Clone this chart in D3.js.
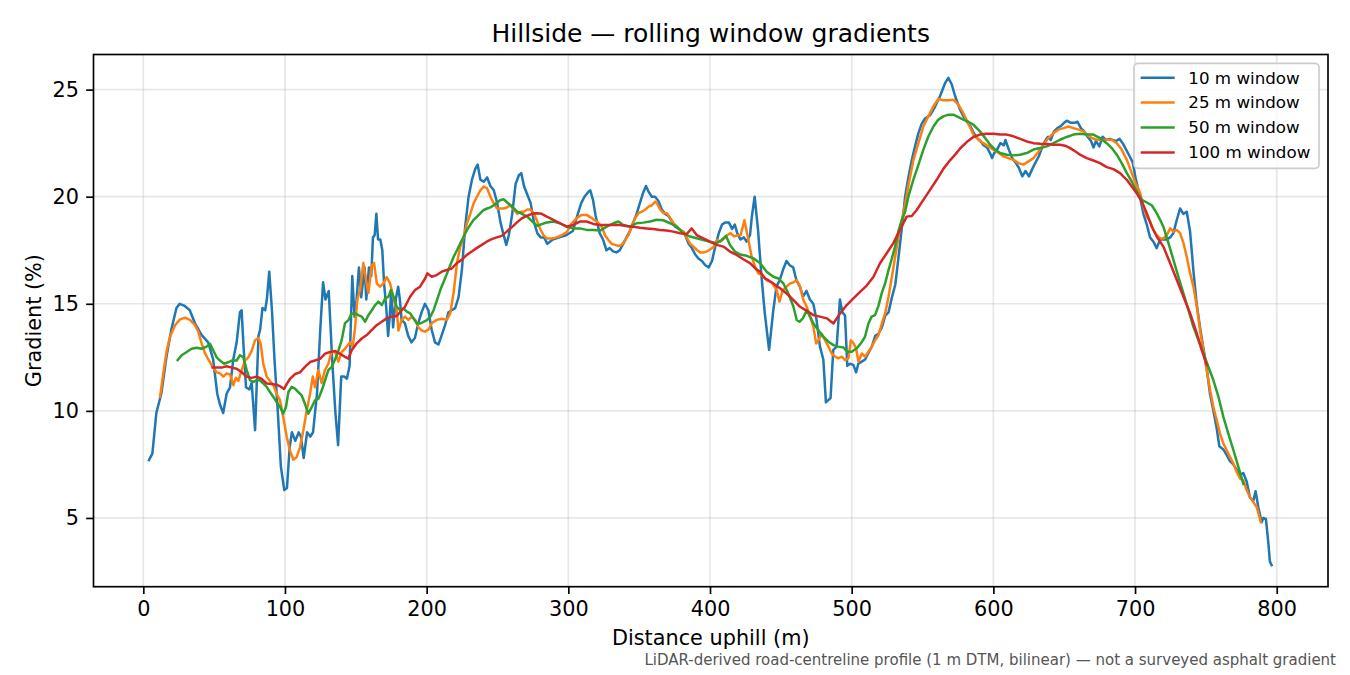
<!DOCTYPE html>
<html>
<head>
<meta charset="utf-8">
<script src="https://cdn.jsdelivr.net/npm/d3@7"></script>
<style>
  body { margin: 0; background: #ffffff; }
  text { font-family: "DejaVu Sans", sans-serif; fill: #000000; }
</style>
</head>
<body>
<script>
// distance uphill (m), gradient (%)
var win10 = [[4,7.7],[6.4,8.0],[9.2,9.9],[12.7,10.8],[16.3,12.5],[19.8,13.8],[23.4,14.8],[25.7,15.0],[29.3,14.9],[32.8,14.7],[36.4,14.1],[41.1,13.55],[45.8,13.2],[49.3,12.4],[52.2,10.8],[54.1,10.3],[56.4,9.9],[58.8,10.8],[61.2,11.1],[63.5,12.4],[65.9,13.2],[68.2,14.6],[69.4,14.7],[70.6,13.2],[72.5,11.1],[74.9,11.0],[76.5,11.3],[78.9,9.1],[81.3,13.5],[82.5,13.8],[84.1,14.8],[86,14.7],[87.2,15.2],[88.9,16.5],[90.8,14.7],[92.6,12.4],[95,9.9],[97.1,7.4],[99.5,6.3],[101.4,6.4],[103.3,8.3],[104.9,9.0],[107.3,8.6],[109.7,9.0],[111.3,8.8],[113.2,7.8],[115.6,9.0],[117.9,8.8],[119.8,9.0],[122.6,10.8],[125,13.9],[126.9,16.0],[128.6,15.2],[130.9,15.6],[133.3,12.4],[135.6,9.9],[137.5,8.4],[139.7,11.6],[142,11.6],[143.7,11.5],[145.6,12.1],[147.5,16.3],[149.1,14.4],[150.3,15.0],[152.2,16.7],[153.8,15.3],[155,16.0],[156.2,16.7],[157.4,15.2],[159.3,16.7],[160.9,16.3],[162.1,18.1],[163.3,18.2],[164.5,19.2],[165.7,18.0],[167.3,18.0],[168.7,17.5],[169.9,16.0],[171.6,14.7],[172.8,13.5],[173.9,14.4],[175.1,15.65],[176.3,13.9],[178.2,15.2],[179.9,15.8],[181.1,15.2],[182.3,14.25],[184.6,14.1],[187,13.5],[189.3,13.2],[191.7,13.4],[194.1,14.1],[196.4,14.6],[198.8,15.0],[201.2,14.7],[203.5,13.8],[205.9,13.2],[208.3,13.1],[210.7,13.55],[213,14.0],[215.4,14.6],[217.7,14.7],[220.1,14.8],[222.5,15.3],[224.9,16.6],[227.2,18.6],[229.6,20.0],[232,20.8],[234.3,21.3],[236,21.5],[237.9,20.8],[240.3,20.7],[242.7,20.9],[245,20.5],[247.4,20.3],[249.8,19.7],[252.1,18.8],[254,18.3],[256.2,17.75],[258,18.2],[260.4,19.2],[262.8,20.6],[265.1,21.0],[266.8,21.1],[268.7,20.5],[271,20.1],[273.4,19.7],[275.8,18.8],[278.1,18.3],[280.5,18.1],[282.9,18.1],[285.2,17.8],[289,18.0],[293.7,18.1],[298.5,18.2],[303.2,18.4],[306.7,19.2],[309.1,19.7],[311.4,20.0],[313.8,20.2],[315.5,20.3],[317.4,19.85],[319.3,19.1],[322.1,18.3],[324.5,18.0],[326.9,17.5],[329.2,17.6],[331.6,17.45],[334,17.4],[336.3,17.5],[338.7,17.8],[341.1,18.1],[343.4,18.4],[345.8,18.8],[348.2,19.2],[350.5,19.7],[352.9,20.2],[354.8,20.5],[356.5,20.25],[358.9,20.0],[361.2,20.0],[363.6,19.8],[366,19.4],[368.3,19.2],[370.7,19.1],[373.1,18.85],[375.4,18.6],[379,18.45],[382.5,18.2],[384.9,17.8],[387.2,17.6],[389.6,17.3],[392,17.1],[394.3,17.0],[396.7,16.8],[399.1,16.7],[401.4,17.0],[403.8,17.7],[406.2,18.3],[408.5,18.7],[410.9,18.8],[413.3,18.8],[415.6,18.5],[417.5,18.7],[419.2,18.3],[421.5,18.0],[423.9,18.1],[425.8,17.9],[428.2,18.2],[429.6,19.1],[431.5,20.0],[433.9,18.45],[436.2,16.4],[438.6,14.6],[441.7,12.85],[444.5,14.6],[446.9,15.8],[449.2,16.1],[451.6,16.6],[454,17.0],[456.3,16.8],[458.7,16.7],[461,16.1],[463.4,15.8],[465.8,15.35],[468.1,15.6],[470.5,15.2],[472.9,15.0],[475.2,14.25],[477.6,13.0],[480,12.4],[481.8,10.4],[483.5,10.5],[485.1,10.6],[487,12.85],[489.4,13.0],[491.7,15.2],[493.4,14.6],[495.3,14.45],[496.9,12.1],[498.8,12.2],[501.2,12.15],[503.1,11.8],[504.7,12.2],[507.1,12.3],[509.5,12.4],[511.8,12.7],[514.2,13.0],[516.6,13.5],[518.9,13.6],[521.3,13.9],[523.7,14.45],[526,14.6],[528.4,15.3],[530.8,15.9],[533.1,17.2],[535.5,18.6],[537.7,20.0],[540,20.9],[542.4,21.7],[544.7,22.35],[547.1,22.97],[549.4,23.4],[551.8,23.65],[555.3,23.8],[558.8,24.2],[562.4,24.7],[565.9,25.3],[568.2,25.55],[570.6,25.25],[573,24.7],[576.5,24.06],[578.9,23.75],[581.3,23.5],[583.7,23.3],[586,23.0],[588.4,22.75],[590.8,22.6],[593.1,22.4],[595.5,22.3],[597.9,22.0],[599.1,21.8],[600.3,22.0],[602.6,22.2],[605,22.5],[607.4,22.4],[608.5,22.65],[610.9,22.2],[613.3,21.8],[615.6,21.6],[618,21.35],[620.4,20.95],[622.7,21.2],[625.1,20.95],[627.5,21.3],[629.8,21.6],[632.2,21.9],[634.6,22.35],[636.9,22.65],[638.6,22.8],[640.5,22.65],[642.8,23.05],[645.2,23.2],[647.6,23.3],[649.9,23.45],[651.8,23.55],[654.7,23.45],[657,23.45],[659.4,23.5],[661.8,23.2],[664.1,23.05],[666.5,22.8],[668.9,22.6],[670.7,22.3],[672.4,22.6],[674.8,22.35],[677.1,22.8],[679.5,22.65],[681.9,22.7],[684.2,22.65],[686.6,22.6],[689,22.7],[691.3,22.5],[693.7,22.2],[696.1,21.9],[698.4,21.6],[700.3,20.9],[703.5,20.0],[705.9,19.2],[708.3,18.7],[710.6,18.1],[713,17.9],[715.3,17.6],[717.7,18.0],[720,18.0],[722.4,18.0],[724.8,18.1],[727.1,18.3],[729.4,18.9],[731.8,19.45],[734.1,19.2],[736.5,19.3],[738.8,18.4],[741.2,16.55],[743.5,15.0],[745.9,13.9],[748.2,12.95],[750.6,12.0],[752.9,10.8],[755.3,10.0],[757.6,9.2],[759.5,8.35],[762.3,8.2],[764.6,7.95],[767,7.65],[769.4,7.5],[771.7,7.25],[774.1,7.0],[776.4,7.1],[778.8,6.7],[781.1,5.95],[783.5,5.8],[785.1,6.25],[787,5.5],[789.4,4.8],[790.5,5.0],[792.4,4.95],[794,3.9],[795.2,2.97],[796.4,2.8]];

var win25 = [[11.8,10.65],[14.1,11.75],[16.5,12.8],[18.8,13.45],[22.4,14.0],[25.9,14.27],[29.4,14.35],[32.9,14.25],[36.5,14.0],[38.8,13.7],[41.2,13.15],[43.5,12.7],[45.9,12.4],[48.9,12.05],[51.8,11.8],[54.1,11.75],[56.5,11.6],[58.8,11.75],[61.2,11.7],[63.6,11.2],[65.4,11.55],[67.1,11.4],[69.4,11.9],[71.8,12.35],[74.1,12.5],[76.5,12.8],[78.9,13.3],[81.2,13.4],[82.8,13.15],[84.7,12.2],[87.1,11.6],[89.4,11.4],[91.8,11.2],[94.1,10.8],[96.5,10.5],[98.8,9.7],[101.2,8.8],[103.5,8.15],[105.9,7.72],[108.3,7.85],[110.6,8.3],[113,9.1],[115.3,10.0],[117.7,10.8],[119.6,11.6],[121.2,11.1],[123.5,11.9],[125.9,11.3],[128.2,11.9],[130.6,12.2],[133,12.8],[135.3,12.75],[137.7,12.3],[140,12.75],[142.4,12.9],[145.9,13.2],[147.8,13.0],[149.5,13.9],[151.1,15.2],[153,15.65],[155.3,16.9],[157.2,16.1],[158.9,15.5],[161.2,16.8],[162.9,16.9],[164.8,15.95],[167.1,15.8],[169.5,15.95],[171.8,16.25],[174.2,15.95],[176.5,15.3],[178.9,14.7],[180.1,13.75],[182.4,14.25],[184.8,14.4],[187.1,14.25],[189.5,14.4],[191.9,14.25],[194.2,13.9],[196.6,13.75],[199,13.7],[201.3,13.8],[203.7,14.1],[207.2,14.25],[210.7,14.3],[214.3,14.25],[216.6,14.55],[219,15.5],[221.4,16.9],[223.7,17.67],[226.1,18.1],[228.4,18.75],[230.8,19.2],[233.2,19.7],[235.5,20.0],[237.9,20.3],[240.3,20.47],[242.6,20.4],[245,20.0],[247.3,19.7],[249.7,19.45],[252.1,19.45],[254.4,19.45],[256.8,19.5],[259.1,19.6],[261.5,19.4],[263.9,19.2],[266.2,19.3],[268.6,19.3],[271,19.4],[273.3,19.4],[275.7,19.2],[278.1,18.85],[280.4,18.45],[282.6,18.2],[284.7,18.05],[288.3,18.05],[291.8,18.1],[295.3,18.2],[298.9,18.35],[302.4,18.76],[305.9,19.0],[309.4,19.15],[313,19.15],[316.5,19.0],[320,18.85],[323.6,18.6],[325.9,18.2],[328.3,17.98],[330.6,17.8],[333,17.75],[335.4,17.7],[337.7,17.75],[340.1,17.98],[342.4,18.2],[344.8,18.6],[347.2,19.0],[349.5,19.23],[351.9,19.3],[354.3,19.4],[356.6,19.54],[359,19.6],[361.3,19.77],[362.5,19.7],[364.9,19.4],[367.2,19.23],[369.6,19.23],[372,19.0],[374.3,18.76],[376.7,18.6],[379.1,18.45],[381.4,18.37],[383.8,18.05],[386.1,17.8],[388.5,17.66],[390.9,17.5],[393.2,17.4],[395.6,17.4],[398,17.45],[400.3,17.55],[402.7,17.66],[405,17.98],[407.4,17.9],[409.8,18.05],[412.1,18.2],[414.5,18.3],[416.9,18.15],[419.2,18.2],[421.6,18.2],[424.3,18.9],[427.1,17.98],[429.4,17.2],[431.8,16.73],[434.1,16.42],[436.5,16.34],[440,16.1],[443.5,16.0],[447.1,15.64],[449,15.1],[451.3,15.64],[454.1,15.8],[456.5,15.95],[458.9,16.0],[461.2,16.1],[463.6,15.8],[465.9,15.17],[468.3,14.86],[470.6,14.4],[473,13.92],[474.9,13.15],[476.5,13.3],[478.9,13.6],[481.2,13.3],[483.6,13.0],[485.9,12.68],[488.3,12.53],[490.6,12.45],[493,12.53],[495.4,12.37],[497.7,12.45],[499.4,13.3],[501.3,13.15],[503.1,12.92],[504.8,12.29],[507.1,12.68],[509.5,12.53],[511.8,12.76],[514.2,13.0],[516.5,13.3],[518.9,13.53],[521.3,14.08],[523.6,14.55],[526,15.33],[528.4,16.26],[530.7,17.2],[533.1,18.14],[535.4,18.9],[537.8,19.7],[540.1,20.55],[543.6,21.72],[547.1,22.5],[550.6,23.28],[554.1,23.75],[557.7,24.22],[561.2,24.56],[564.7,24.5],[568.2,24.5],[571.8,24.53],[575.3,24.3],[578.8,23.9],[582.4,23.4],[585.9,22.9],[589.5,22.66],[593,22.5],[596.5,22.35],[600,22.2],[603.6,22.05],[607.1,21.88],[610.6,21.8],[614.2,21.72],[617.7,21.57],[621.2,21.5],[624.8,21.65],[628.3,21.8],[631.8,22.1],[635.3,22.43],[638.9,22.74],[642.4,22.97],[645.9,23.13],[649.5,23.2],[653,23.28],[656.5,23.2],[660.1,23.13],[663.6,23.05],[665.9,22.9],[669.5,22.74],[673,22.66],[676.5,22.66],[680.1,22.66],[683.6,22.66],[687.1,22.5],[690.6,22.2],[694.2,21.72],[697.7,21.1],[700.5,20.6],[703.6,20.17],[705.9,19.54],[708.3,19.07],[710.6,18.84],[713,18.45],[715.3,18.2],[717.7,18.05],[720,18.05],[722.4,18.2],[724.8,18.52],[727.1,18.37],[729.5,18.45],[731.8,18.3],[734.2,17.83],[736.5,17.2],[738.9,16.42],[741.2,15.8],[743.6,14.86],[745.9,13.77],[748.3,12.83],[750.6,11.9],[753,10.96],[755.3,10.18],[757.7,9.56],[760,8.93],[762.4,8.47],[764.8,8.15],[767.1,7.84],[769.5,7.53],[771.8,7.14],[774.2,6.83],[776.5,6.75],[778.9,6.28],[781.2,5.97],[783.6,5.73],[785.9,5.5],[788.8,4.8]];

var win50 = [[24.3,12.37],[27.1,12.6],[30.6,12.75],[34.1,12.9],[37.7,12.95],[41.2,12.9],[44.7,13.0],[47.1,13.13],[49.4,12.82],[51.8,12.5],[54.1,12.35],[57,12.2],[60,12.27],[62.4,12.35],[65.9,12.35],[68.3,12.6],[70.6,12.5],[73,11.9],[75.3,11.43],[77.7,11.35],[80.1,11.43],[82.4,11.43],[84.8,11.27],[87.1,11.12],[89.4,10.88],[91.8,10.65],[94.1,10.41],[96.5,10.18],[98.8,9.87],[100.7,10.18],[102.4,10.88],[104.7,11.12],[107.1,11.04],[109.4,10.88],[111.8,10.72],[114.1,10.33],[116.5,9.87],[118.9,10.18],[121.2,10.49],[123.6,10.57],[126,10.96],[128.3,11.43],[130.6,11.9],[133,12.05],[135.3,12.4],[137.7,12.8],[140,13.3],[142.4,14.1],[144.8,14.24],[147.1,14.55],[149.5,14.55],[151.8,14.47],[154.2,14.4],[156.6,14.16],[158.9,14.47],[161.3,14.7],[163.6,14.94],[166,15.1],[168.4,14.94],[170.7,15.25],[173.1,15.33],[174.7,15.64],[176.6,15.33],[178.9,14.86],[181.3,14.7],[183.7,14.78],[186,14.63],[188.4,14.55],[190.7,14.32],[193.1,14.08],[195.5,14.08],[197.8,14.16],[200.2,14.24],[202.6,14.4],[204.9,14.7],[207.3,15.17],[209.6,15.64],[212,16.03],[214.4,16.42],[216.7,16.81],[219.1,17.2],[221.4,17.5],[223.8,17.83],[226.2,18.14],[228.5,18.45],[230.9,18.7],[233.2,18.92],[235.6,19.07],[238,19.23],[240.3,19.38],[242.7,19.45],[245,19.5],[247.4,19.6],[249.8,19.73],[252.1,19.85],[254.5,19.88],[256.8,19.73],[259.2,19.6],[261.6,19.45],[263.9,19.3],[266.3,19.23],[268.6,19.15],[271,19.07],[273.4,18.92],[275.7,18.77],[278.1,18.64],[280.4,18.7],[284,18.78],[289.4,18.84],[294.1,18.76],[298.8,18.6],[303.5,18.52],[308.2,18.52],[312.9,18.45],[317.6,18.45],[322.4,18.42],[327.1,18.6],[331.8,18.76],[335.3,18.84],[338.8,18.68],[343.5,18.6],[348.2,18.76],[352.9,18.79],[357.6,18.84],[362.4,18.92],[367.1,18.9],[371.8,18.76],[376.5,18.6],[381.2,18.29],[385.9,18.14],[390.6,18.06],[395.3,17.98],[400,17.9],[404.7,17.83],[408.2,17.98],[411.3,18.17],[414.1,17.75],[417.6,17.44],[421.2,17.3],[425.9,17.24],[430.6,17.12],[435.3,16.9],[440,16.5],[444.7,16.26],[448.3,16.18],[451.8,15.95],[455.3,15.48],[458.9,14.86],[461.2,14.24],[463.1,14.16],[465.5,14.32],[468.3,14.7],[470.6,14.4],[473,14.08],[476.5,13.77],[480,13.46],[483.6,13.23],[487.1,13.07],[490.6,13.0],[494.1,12.96],[497,12.76],[500,12.76],[503.5,12.92],[506.5,13.15],[509.4,13.46],[511.8,14.08],[514.1,14.4],[516.5,14.47],[518.9,14.9],[521.2,15.5],[523.6,15.95],[525.9,16.55],[528.3,17.1],[530.6,17.67],[533,18.4],[535.3,18.9],[537.7,19.3],[540,20.0],[543.5,20.79],[547.1,21.49],[550.6,22.2],[554.1,22.81],[557.7,23.28],[561.2,23.6],[564.7,23.75],[568.3,23.83],[571.8,23.83],[575.3,23.72],[578.8,23.6],[582.4,23.5],[585.9,23.36],[590.6,23.05],[594.2,22.74],[597.7,22.43],[601.2,22.2],[604.8,22.04],[609.5,21.96],[614.2,21.93],[618.9,21.96],[623.6,22.04],[628.3,22.2],[633,22.27],[637.7,22.35],[642.4,22.5],[647.1,22.66],[651.8,22.79],[656.5,22.9],[661.2,22.94],[665.9,22.9],[670.6,22.9],[675.3,22.74],[680,22.5],[683.6,22.27],[687.1,21.96],[690.6,21.57],[694.2,21.1],[697.7,20.71],[701.2,20.24],[704.8,19.85],[708.3,19.73],[711.8,19.6],[715.3,19.23],[717.7,18.92],[720,18.6],[723.6,17.83],[727.1,17.05],[730.6,16.26],[734.2,15.48],[737.7,14.7],[741.2,13.92],[744.8,13.3],[748.3,12.68],[751.8,12.05],[755.3,11.43],[758.9,10.65],[762.4,9.71],[765.9,8.93],[769.5,8.15],[773,7.37],[776.5,6.59]];

var win100 = [[49,12.02],[51.8,12.02],[55.3,12.02],[58.8,12.08],[62.4,12.02],[65.9,11.97],[69.4,11.8],[73,11.6],[76.5,11.54],[80.1,11.6],[83.6,11.49],[87.1,11.28],[90.6,11.25],[94.1,11.22],[97,11.13],[99.3,11.02],[101.2,11.25],[103.5,11.49],[107.1,11.72],[110.6,11.8],[114.1,12.05],[117.7,12.28],[121.2,12.35],[124.8,12.43],[128.3,12.67],[131.8,12.75],[135.3,12.8],[138.9,12.66],[142.4,12.52],[144.7,12.44],[147.1,12.83],[150.6,13.15],[154.2,13.38],[157.7,13.54],[161.2,13.77],[164.7,14.0],[168.3,14.16],[171.8,14.32],[175.3,14.4],[178.9,14.43],[182.4,14.7],[184.7,14.86],[188.3,15.33],[191.8,15.64],[195.3,15.8],[198.9,16.18],[200.5,16.42],[203.6,16.26],[207.1,16.34],[210.6,16.5],[214.2,16.58],[217.7,16.65],[221.2,16.89],[224.7,17.05],[228.3,17.28],[231.8,17.44],[235.3,17.6],[238.9,17.75],[242.4,17.9],[245.9,18.02],[249.5,18.1],[253,18.17],[256.5,18.37],[260,18.57],[263.6,18.79],[267.1,18.99],[270.6,19.1],[274.2,19.2],[277.7,19.23],[281.2,19.2],[284.8,19.07],[289.4,18.92],[294.1,18.76],[298.8,18.6],[303.5,18.68],[308.2,18.84],[312.9,18.84],[317.6,18.73],[322.4,18.68],[327.1,18.68],[331.8,18.68],[336.5,18.68],[341.2,18.63],[345.9,18.6],[350.6,18.55],[355.3,18.52],[360,18.49],[364.7,18.45],[369.4,18.42],[374.1,18.37],[378.8,18.29],[383.5,18.26],[387.1,18.52],[390.6,18.21],[395.3,18.06],[400,17.9],[404.7,17.75],[409.4,17.67],[414.1,17.44],[418.8,17.28],[423.5,17.08],[428.2,16.9],[432.9,16.6],[435.3,16.5],[438.9,16.18],[441.2,16.1],[444.7,15.95],[449.4,15.72],[454.1,15.48],[458.9,15.17],[463.6,14.86],[468.3,14.67],[473,14.47],[477.6,14.4],[482.4,14.32],[487.1,14.08],[491.8,14.55],[496.5,14.94],[501.2,15.25],[505.9,15.56],[510.6,15.85],[515.3,16.25],[520,16.89],[524.7,17.36],[529.4,17.83],[534.1,18.45],[538.8,19.07],[542.4,19.1],[545.9,19.38],[550.6,19.85],[555.3,20.32],[560,20.79],[564.7,21.3],[569.4,21.7],[573.5,22.0],[576.5,22.25],[581.2,22.55],[585.9,22.79],[590.6,22.9],[595.3,22.94],[600,22.94],[604.8,22.9],[609.5,22.9],[614.2,22.82],[618.9,22.7],[623.6,22.58],[628.3,22.5],[633,22.47],[637.7,22.46],[642.4,22.43],[647.1,22.43],[650.6,22.38],[654.2,22.27],[657.7,22.12],[661.2,21.96],[665.9,21.8],[670.6,21.69],[675.3,21.57],[680,21.38],[684.7,21.29],[689.4,21.1],[694.2,20.79],[697.7,20.48],[701.2,20.16],[704.8,19.77],[708.3,19.23],[711.8,18.6],[715.3,18.14],[720,17.67],[724.8,16.89],[729.5,16.11],[734.2,15.33],[738.9,14.55],[743.6,13.62],[747.1,12.84],[750.6,12.14]];

var seriesNames = ["10 m window", "25 m window", "50 m window", "100 m window"];
var seriesColours = ["#1f77b4", "#ff7f0e", "#2ca02c", "#d62728"];
var xTicks = [0, 100, 200, 300, 400, 500, 600, 700, 800];
var yTicks = [5, 10, 15, 20, 25];

var titleText = "Hillside \u2014 rolling window gradients";
var xLabel = "Distance uphill (m)";
var yLabel = "Gradient (%)";
var noteText = "LiDAR-derived road-centreline profile (1 m DTM, bilinear) \u2014 not a surveyed asphalt gradient";

var width = 1350, height = 675;
// plot frame (window.top is read-only, so no bare "top")
var plotLeft = 93.5, plotRight = 1328, plotTop = 54.5, plotBottom = 586.7;

var svg = d3.select("body").append("svg")
	.attr("width", width)
	.attr("height", height);

var x = d3.scaleLinear().domain([-35.15, 836.2]).range([plotLeft, plotRight]);
var y = d3.scaleLinear().domain([1.79, 26.64]).range([plotBottom, plotTop]);

// grid
var grid = svg.append("g").attr("class", "grid");
grid.selectAll("line.gx").data(xTicks).enter().append("line")
	.attr("class", "gx")
	.attr("x1", function(d) { return x(d); })
	.attr("x2", function(d) { return x(d); })
	.attr("y1", plotTop).attr("y2", plotBottom)
	.attr("stroke", "#b0b0b0").attr("stroke-opacity", 0.3).attr("stroke-width", 1.67);
grid.selectAll("line.gy").data(yTicks).enter().append("line")
	.attr("class", "gy")
	.attr("y1", function(d) { return y(d); })
	.attr("y2", function(d) { return y(d); })
	.attr("x1", plotLeft).attr("x2", plotRight)
	.attr("stroke", "#b0b0b0").attr("stroke-opacity", 0.3).attr("stroke-width", 1.67);

// lines
var line = d3.line()
	.x(function(d) { return x(d[0]); })
	.y(function(d) { return y(d[1]); });

var allSeries = [win10, win25, win50, win100];
svg.append("g").selectAll("path").data(allSeries).enter().append("path")
	.attr("d", line)
	.attr("fill", "none")
	.attr("stroke", function(d, i) { return seriesColours[i]; })
	.attr("stroke-width", 2.5)
	.attr("stroke-linejoin", "round")
	.attr("stroke-linecap", "square");

// axes
var xAxis = svg.append("g")
	.attr("transform", "translate(0," + plotBottom + ")")
	.call(d3.axisBottom(x).tickValues(xTicks).tickSize(7.3).tickPadding(7.3));
var yAxis = svg.append("g")
	.attr("transform", "translate(" + plotLeft + ",0)")
	.call(d3.axisLeft(y).tickValues(yTicks).tickSize(7.3).tickPadding(7.3));

[xAxis, yAxis].forEach(function(ax) {
	ax.select(".domain").remove();
	ax.selectAll(".tick line").attr("stroke", "#000").attr("stroke-width", 1.67);
	ax.selectAll(".tick text")
		.attr("font-family", "DejaVu Sans")
		.attr("font-size", "20.8px")
		.attr("fill", "#000");
});

svg.append("rect")
	.attr("x", plotLeft).attr("y", plotTop)
	.attr("width", plotRight - plotLeft).attr("height", plotBottom - plotTop)
	.attr("fill", "none").attr("stroke", "#000").attr("stroke-width", 1.67);

// texts
svg.append("text")
	.attr("x", (plotLeft + plotRight) / 2).attr("y", 42)
	.attr("text-anchor", "middle")
	.attr("font-size", "25px")
	.text(titleText);

svg.append("text")
	.attr("x", (plotLeft + plotRight) / 2).attr("y", 645)
	.attr("text-anchor", "middle")
	.attr("font-size", "20.8px")
	.text(xLabel);

svg.append("text")
	.attr("transform", "translate(34," + ((plotTop + plotBottom) / 2) + ") rotate(-90)")
	.attr("text-anchor", "middle")
	.attr("dy", "0.35em")
	.attr("font-size", "20.8px")
	.text(yLabel);

svg.append("text")
	.attr("x", 1336).attr("y", 665)
	.attr("text-anchor", "end")
	.attr("font-size", "15px")
	.style("fill", "#555")
	.text(noteText);

// legend
var legend = svg.append("g").attr("transform", "translate(1134,63.3)");
legend.append("rect")
	.attr("width", 185).attr("height", 105)
	.attr("rx", 4)
	.attr("fill", "#fff").attr("fill-opacity", 0.8)
	.attr("stroke", "#cccccc").attr("stroke-width", 1.67);

var rows = legend.selectAll("g.row").data(seriesNames).enter().append("g")
	.attr("class", "row")
	.attr("transform", function(d, i) { return "translate(0," + (14.4 + i * 24.9) + ")"; });
rows.append("line")
	.attr("x1", 6.7).attr("x2", 40.7)
	.attr("stroke", function(d, i) { return seriesColours[i]; })
	.attr("stroke-width", 2.5);
rows.append("text")
	.attr("x", 54.3).attr("dy", "0.35em")
	.attr("font-size", "16.7px")
	.text(function(d) { return d; });
</script>
</body>
</html>
